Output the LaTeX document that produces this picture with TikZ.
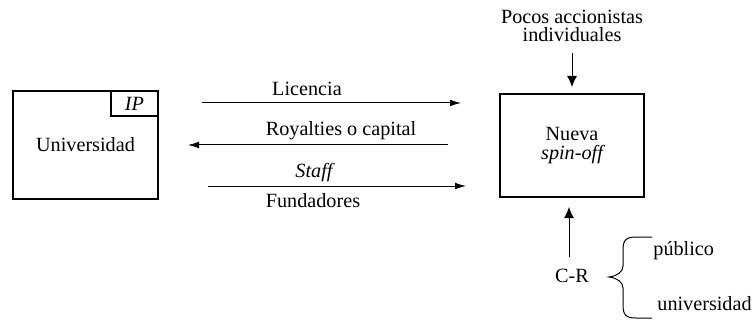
\documentclass[tikz,border=0pt]{standalone}
\usepackage{fontspec}
\setmainfont{Liberation Serif}
\usetikzlibrary{arrows.meta}
\begin{document}
\begin{tikzpicture}[x=0.5pt,y=-0.5pt,
  every node/.style={font=\fontsize{10.1}{9.3}\selectfont, inner sep=0pt},
  box/.style={draw, line width=0.55pt},
  lbl/.style={},
  arr/.style={line width=0.5pt, -{Latex[length=5.5pt,width=3.4pt]}},
  varr/.style={line width=0.5pt, -{Latex[length=5.5pt,width=5pt]}}]
\useasboundingbox (0,0) rectangle (753,320);
% boxes
\node[box, minimum width=72.5pt, minimum height=54pt] (uni) at (85.5,145) {Universidad};
\node[box, minimum width=23.5pt, minimum height=12.5pt, anchor=north east] (ip) at (uni.north east) {\itshape IP};
\node[box, minimum width=72pt, minimum height=51.5pt, align=center] (spin) at (572,145.5) {Nueva\\\itshape spin-off};
% top text
\node[align=center] (pocos) at (572,26) {Pocos accionistas\\individuales};
\coordinate (d1) at (572,53);
\coordinate (d2) at (572,87);
\draw[varr] (d1) -- (d2);
% horizontal arrows
\coordinate (l1) at (202,103);
\coordinate (l2) at (461,103);
\draw[arr] (l1) -- (l2);
\node[lbl] (lic) at (307,89) {Licencia};
\coordinate (r1) at (448,145);
\coordinate (r2) at (188,145);
\draw[arr] (r1) -- (r2);
\node[lbl] (roy) at (341,131) {Royalties o capital};
\coordinate (s1) at (208,186);
\coordinate (s2) at (466,186);
\draw[arr] (s1) -- (s2);
\node[lbl] (staff) at (314,173) {\itshape Staff};
\node[lbl] (fund) at (313,201) {Fundadores};
% C-R
\node (cr) at (572,276) {C-R};
\coordinate (u1) at (569,257);
\coordinate (u2) at (569,207);
\draw[varr] (u1) -- (u2);
% brace
\coordinate (bt) at (652,237);
\coordinate (bb) at (652,318);
\draw[line width=0.5pt] (bt) -- (636,237) .. controls (626,237) and (623,240) .. (623,250) -- (623,266)
  .. controls (623,272) and (617,276) .. (609,277)
  .. controls (617,278) and (623,282) .. (623,288) -- (623,305)
  .. controls (623,315) and (626,318) .. (636,318) -- (bb);
\node[anchor=west] (pub) at (653,251) {público};
\node[anchor=west] (univ2) at (657,304) {universidad};
\end{tikzpicture}
\end{document}
